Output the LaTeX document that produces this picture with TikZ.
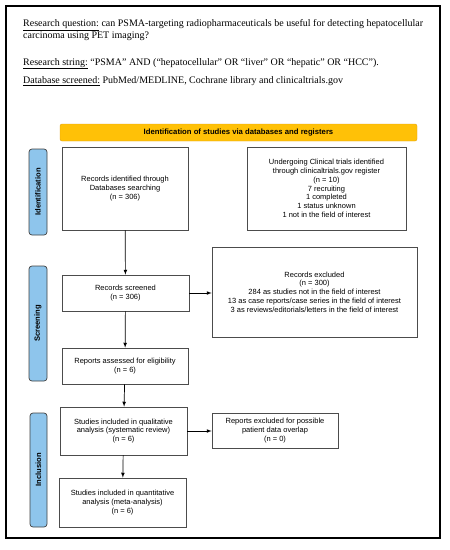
\documentclass[tikz,border=0pt]{standalone}
\usepackage{fontspec}
\setmainfont{Liberation Serif}
\setsansfont{Liberation Sans}
\usepackage{tikz}

\definecolor{bargold}{RGB}{255,193,7}
\definecolor{bargoldline}{RGB}{225,160,20}
\definecolor{sideblue}{RGB}{142,197,236}

\tikzset{
  flowbox/.style={draw=black!70, line width=0.7pt, fill=white, align=center, inner sep=0pt,
    font=\sffamily\fontsize{7.5}{8.8}\selectfont},
  sidelabel/.style={draw=black!75, line width=0.7pt, fill=sideblue, rounded corners=3pt,
    rotate=90, inner sep=0pt, font=\sffamily\bfseries\fontsize{7.6}{8}\selectfont},
  headtext/.style={anchor=base west, inner sep=0pt,
    font=\fontsize{10}{11.7}\selectfont},
  flowarrow/.style={draw=black, line width=0.7pt, ->, >=latex}
}

\begin{document}
\begin{tikzpicture}[x=1pt, y=-1pt]
                    \useasboundingbox (0, 0) rectangle (450, 550);
                    \draw[line width=1.6pt](6, 6) rectangle (440, 538);

                    % question, search string, databases
                    \node [headtext] (question) at(23, 26.7) {\underline{Research question:} can PSMA-targeting radiopharmaceuticals be useful for detecting hepatocellular};
                    \node [headtext] (question2) at(23, 38.4) {carcinoma using PET imaging?};
                    \node [headtext] (string) at(23, 65) {\underline{Research string:} ``PSMA'' AND (``hepatocellular'' OR ``liver'' OR ``hepatic'' OR ``HCC'').};
                    \node [headtext] (databases) at(23, 83.3) {\underline{Database screened:} PubMed/MEDLINE, Cochrane library and clinicaltrials.gov};

                    \node [draw=bargoldline, fill=bargold, rounded corners=2pt, minimum width=357pt, minimum height=17pt, inner sep=0pt,
                           font=\sffamily\bfseries\fontsize{7.7}{8}\selectfont] (header) at(238.5, 132.5) {Identification of studies via databases and registers};

                    % phases
                    \node [sidelabel, minimum width=86pt, minimum height=18pt] (identification) at(38, 192) {Identification};
                    \node [sidelabel, minimum width=115pt, minimum height=18pt] (screening) at(38, 323.5) {Screening};
                    \node [sidelabel, minimum width=114pt, minimum height=17pt] (inclusion) at(38.5, 470) {Inclusion};

                    % boxes
                    \node [flowbox, minimum width=126pt, minimum height=83pt] (identified) at(125, 188.5) {Records identified through\\Databases searching\\(n = 306)};
                    \node [flowbox, minimum width=159pt, minimum height=83pt] (trials) at(326.5, 188.5) {Undergoing Clinical trials identified\\through clinicaltrials.gov register\\(n = 10)\\7 recruiting\\1 completed\\1 status unknown\\1 not in the field of interest};
                    \node [flowbox, minimum width=127pt, minimum height=36pt] (screened) at(125.5, 293) {Records screened\\(n = 306)};
                    \node [flowbox, minimum width=205pt, minimum height=90pt] (excluded) at(314.5, 292) {Records excluded\\(n = 300)\\284 as studies not in the field of interest\\13 as case reports/case series in the field of interest\\3 as reviews/editorials/letters in the field of interest};
                    \node [flowbox, minimum width=126pt, minimum height=36pt] (assessed) at(125, 366) {Reports assessed for eligibility\\(n = 6)};
                    \node [flowbox, minimum width=127pt, minimum height=48pt] (qualitative) at(123.5, 431) {Studies included in qualitative\\analysis (systematic review)\\(n = 6)};
                    \node [flowbox, minimum width=126pt, minimum height=35pt] (overlap) at(275, 430.5) {Reports excluded for possible\\patient data overlap\\(n = 0)};
                    \node [flowbox, minimum width=127pt, minimum height=49pt] (quantitative) at(122.5, 502.5) {Studies included in quantitative\\analysis (meta-analysis)\\(n = 6)};

                    % connectors
                    \draw [flowarrow] (identified) -- (screened);
                    \draw [flowarrow] (screened) -- (excluded.west |- screened);
                    \draw [flowarrow] (screened) -- (assessed);
                    \draw [flowarrow] (assessed) -- (qualitative);
                    \draw [flowarrow] (qualitative) -- (overlap.west |- qualitative);
                    \draw [flowarrow] (qualitative) -- (quantitative);
                    \end{tikzpicture}
\end{document}
